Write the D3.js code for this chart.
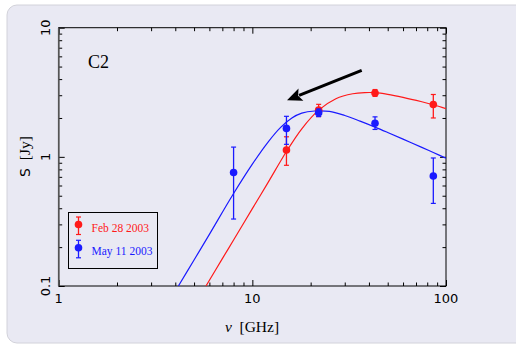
<!DOCTYPE html>
<html><head><meta charset="utf-8">
<script src="https://cdn.jsdelivr.net/npm/d3@7"></script>
<style>html,body{margin:0;padding:0;background:#fff;}svg{display:block;}</style>
</head><body><svg id="c" width="516" height="344"></svg>
<script>
// ---- data ----
const xMajor = [1, 10, 100];
const xMajorLabels = ["1", "10", "100"];
const yMajor = [0.1, 1, 10];
const yMajorLabels = ["0.1", "1", "10"];

const seriesNames = ["Feb 28 2003", "May 11 2003"];
const seriesColors = ["#ff1a1a", "#1a1aff"];

// measured points: frequency (GHz), flux (Jy), low, high
const febFreq = [15, 22, 43, 86];
const febFlux = [1.13, 2.3, 3.12, 2.54];
const febLow  = [0.86, 2.05, 2.94, 2.0];
const febHigh = [1.43, 2.55, 3.32, 3.04];

const mayFreq = [8, 15, 22, 43, 86];
const mayFlux = [0.757, 1.66, 2.2, 1.82, 0.71];
const mayLow  = [0.33, 1.25, 2.05, 1.63, 0.436];
const mayHigh = [1.19, 2.06, 2.35, 2.04, 0.98];

// fitted spectra
const febFitFreq = [5.76, 7, 8, 10, 12, 15, 18, 22, 27, 33, 38, 43, 50, 60, 75, 86, 100];
const febFitFlux = [0.1, 0.163, 0.227, 0.397, 0.626, 1.1, 1.65, 2.3, 2.82, 3.08, 3.145, 3.14, 3.05, 2.89, 2.67, 2.53, 2.36];
const mayFitFreq = [4.15, 5, 6, 8, 10, 12, 14, 16, 18, 21, 25, 30, 36, 43, 50, 60, 75, 86, 100];
const mayFitFlux = [0.1, 0.159, 0.251, 0.52, 0.878, 1.29, 1.69, 2.0, 2.18, 2.265, 2.25, 2.09, 1.89, 1.70, 1.545, 1.372, 1.184, 1.08, 0.976];

// arrow annotation (GHz, Jy)
const arrowFrom = [36.7, 4.68];
const arrowTo = [15.1, 2.745];
const panelLabel = "C2";

// ---- drawing ----
const svg = d3.select("#c");
const m = {left: 58.7, right: 446, top: 27.7, bottom: 286};

svg.append("rect").attr("x", 7).attr("y", 5).attr("width", 520).attr("height", 338)
  .attr("rx", 10).attr("fill", "#e9e9f3").attr("stroke", "#d2d2da").attr("stroke-width", 1);

const x = d3.scaleLog().domain([1, 100]).range([m.left, m.right]);
const y = d3.scaleLog().domain([0.1, 10]).range([m.bottom, m.top]);

const minorX = [], minorY = [];
[1, 10].forEach(d => { for (let k = 2; k <= 9; k++) minorX.push(d * k); });
[0.1, 1].forEach(d => { for (let k = 2; k <= 9; k++) minorY.push(+(d * k).toFixed(2)); });

const defs = svg.append("defs");
defs.append("clipPath").attr("id", "clip").append("rect")
  .attr("x", m.left).attr("y", m.top).attr("width", m.right - m.left).attr("height", m.bottom - m.top);

// axes with inward ticks
function addAxis(gen, vals, size, tx, ty) {
  const g = svg.append("g").attr("transform", `translate(${tx},${ty})`)
    .call(gen.tickValues(vals).tickSize(size).tickFormat(""));
  g.select(".domain").remove();
  g.selectAll("line").attr("stroke", "#000").attr("stroke-width", 1);
}
addAxis(d3.axisBottom(x), xMajor, -6, 0, m.bottom);
addAxis(d3.axisBottom(x), minorX, -3.5, 0, m.bottom);
addAxis(d3.axisTop(x), xMajor, -6, 0, m.top);
addAxis(d3.axisTop(x), minorX, -3.5, 0, m.top);
addAxis(d3.axisLeft(y), yMajor, -6, m.left, 0);
addAxis(d3.axisLeft(y), minorY, -3.5, m.left, 0);
addAxis(d3.axisRight(y), yMajor, -6, m.right, 0);
addAxis(d3.axisRight(y), minorY, -3.5, m.right, 0);

svg.append("rect").attr("x", m.left).attr("y", m.top).attr("width", m.right - m.left)
  .attr("height", m.bottom - m.top).attr("fill", "none").attr("stroke", "#000").attr("stroke-width", 1);
svg.append("line").attr("x1", m.left).attr("x2", m.left).attr("y1", m.top).attr("y2", m.bottom)
  .attr("stroke", "#555").attr("stroke-width", 1.6);

// tick labels
svg.append("g").selectAll("text").data(xMajor).join("text")
  .attr("x", d => x(d)).attr("y", 303).attr("text-anchor", "middle")
  .attr("font-family", "DejaVu Sans").attr("font-size", 13).attr("fill", "#000")
  .text((d, i) => xMajorLabels[i]);
svg.append("g").selectAll("text").data(yMajor).join("text")
  .attr("transform", d => `translate(50,${y(d)}) rotate(-90)`).attr("text-anchor", "middle")
  .attr("font-family", "DejaVu Sans").attr("font-size", 13).attr("fill", "#000")
  .text((d, i) => yMajorLabels[i]);

// axis titles
const xt = svg.append("text").attr("x", 252).attr("y", 331.5).attr("text-anchor", "middle")
  .attr("font-family", "Liberation Serif").attr("font-size", 15.5).attr("fill", "#000");
xt.append("tspan").attr("font-style", "italic").text("ν");
xt.append("tspan").text("\u2002[GHz]");
const yt = svg.append("text").attr("transform", "translate(30,156.5) rotate(-90)").attr("text-anchor", "middle")
  .attr("font-size", 15.5).attr("fill", "#000");
yt.append("tspan").attr("font-family", "DejaVu Sans").attr("font-size", 14).text("S");
yt.append("tspan").attr("font-family", "Liberation Serif").text("\u2002[Jy]");

// panel label
svg.append("text").attr("x", 88).attr("y", 67.5).attr("font-family", "Liberation Serif")
  .attr("font-size", 18).attr("fill", "#000").text(panelLabel);

// fit curves
const line = d3.line().x(d => x(d[0])).y(d => y(d[1])).curve(d3.curveCatmullRom.alpha(0.5));
const plot = svg.append("g").attr("clip-path", "url(#clip)");
const fits = [d3.zip(febFitFreq, febFitFlux), d3.zip(mayFitFreq, mayFitFlux)];
fits.forEach((f, i) => plot.append("path").datum(f).attr("d", line)
  .attr("fill", "none").attr("stroke", seriesColors[i]).attr("stroke-width", 1.2));

// points with error bars
const sets = [
  febFreq.map((f, i) => ({f, s: febFlux[i], lo: febLow[i], hi: febHigh[i]})),
  mayFreq.map((f, i) => ({f, s: mayFlux[i], lo: mayLow[i], hi: mayHigh[i]}))
];
sets.forEach((pts, i) => {
  const g = svg.append("g").attr("stroke", seriesColors[i]).attr("fill", seriesColors[i]);
  pts.forEach(p => {
    const cx = x(p.f);
    g.append("line").attr("x1", cx).attr("x2", cx).attr("y1", y(p.lo)).attr("y2", y(p.hi)).attr("stroke-width", 1.3);
    [p.lo, p.hi].forEach(v => g.append("line").attr("x1", cx - 2.5).attr("x2", cx + 2.5)
      .attr("y1", y(v)).attr("y2", y(v)).attr("stroke-width", 1.2));
    g.append("circle").attr("cx", cx).attr("cy", y(p.s)).attr("r", 3.8).attr("stroke", "none");
  });
});

// arrow
const ax1 = x(arrowFrom[0]), ay1 = y(arrowFrom[1]), ax2 = x(arrowTo[0]), ay2 = y(arrowTo[1]);
const dx = ax2 - ax1, dy = ay2 - ay1, L = Math.hypot(dx, dy), ux = dx / L, uy = dy / L;
const hl = 15, hw = 6.5;
const bx = ax2 - ux * hl, by = ay2 - uy * hl;
svg.append("line").attr("x1", ax1).attr("y1", ay1).attr("x2", bx + ux * 2).attr("y2", by + uy * 2)
  .attr("stroke", "#000").attr("stroke-width", 3);
svg.append("path").attr("d", `M${ax2},${ay2}L${bx - uy * hw},${by + ux * hw}L${bx + ux * 3},${by + uy * 3}L${bx + uy * hw},${by - ux * hw}Z`)
  .attr("fill", "#000");

// legend
svg.append("rect").attr("x", 68.5).attr("y", 212.5).attr("width", 89).attr("height", 56)
  .attr("fill", "none").attr("stroke", "#000").attr("stroke-width", 1);
seriesNames.forEach((n, i) => {
  const cy = 224.5 + i * 23.3;
  const g = svg.append("g").attr("stroke", seriesColors[i]).attr("fill", seriesColors[i]);
  g.append("line").attr("x1", 78.5).attr("x2", 78.5).attr("y1", cy - 7.5).attr("y2", cy + 10).attr("stroke-width", 1.3);
  [cy - 7.5, cy + 10].forEach(v => g.append("line").attr("x1", 76).attr("x2", 81).attr("y1", v).attr("y2", v).attr("stroke-width", 1.2));
  g.append("circle").attr("cx", 78.5).attr("cy", cy).attr("r", 3.8).attr("stroke", "none");
  svg.append("text").attr("x", 91.5).attr("y", cy + 7.5).attr("font-family", "Liberation Serif")
    .attr("font-size", 11.5).attr("fill", seriesColors[i]).text(n);
});
</script></body></html>
